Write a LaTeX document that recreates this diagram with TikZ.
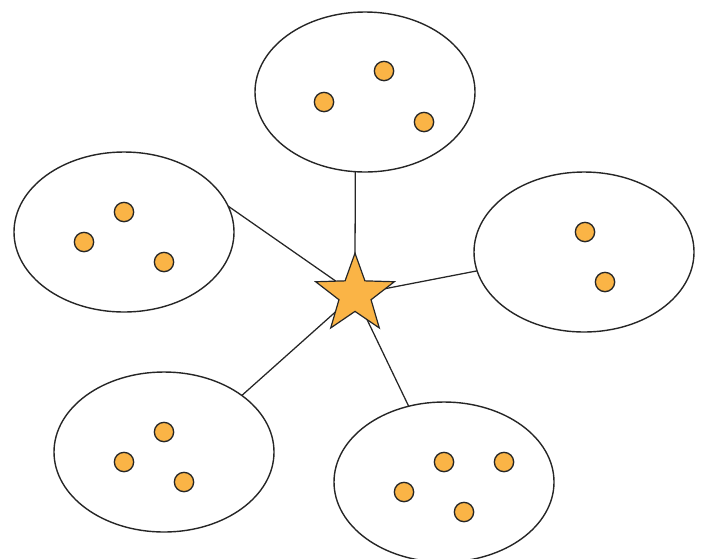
\documentclass[tikz,border=0pt]{standalone}
\usetikzlibrary{shapes.geometric,backgrounds}
\definecolor{dotfill}{RGB}{250,180,70}
\tikzset{
  grp/.style={ellipse, draw=black!85, line width=1.05pt, fill=white, inner sep=0pt, outer sep=0pt, minimum width=165pt, minimum height=120pt},
  elem/.style={circle, draw=black!85, line width=1pt, fill=dotfill, inner sep=0pt, minimum size=14.5pt},
  hub/.style={star, star points=5, star point ratio=2.45, draw=black!85, line width=0.9pt, fill=dotfill, inner sep=0pt, outer sep=0pt, minimum size=62pt},
  link/.style={draw=black!85, line width=0.95pt}
}
\begin{document}
\begin{tikzpicture}[x=0.75pt, y=-0.75pt]
\useasboundingbox (0,0) rectangle (705,558);
% groups
\node[grp] (gtop) at (365,92) {};
\node[grp] (gleft) at (124,232) {};
\node[grp] (gright) at (584,252) {};
\node[grp] (gbl) at (164,452) {};
\node[grp] (gbr) at (444,482) {};
% hub
\node[hub] (hub) at (355,294.5) {};
% links (behind everything)
\begin{scope}[on background layer]
\draw[link] (gtop.263.5) -- (hub.center);
\draw[link] (gleft.14.3) -- (hub.center);
\draw[link] (gright.190.9) -- (hub.center);
\draw[link] (gbl.36.8) -- (hub.center);
\draw[link] (gbr.115.1) -- (hub.center);
\end{scope}
% elements
\node[elem] (t1) at (384,71) {};
\node[elem] (t2) at (324,102) {};
\node[elem] (t3) at (424,122) {};
\node[elem] (l1) at (124,212) {};
\node[elem] (l2) at (84,242) {};
\node[elem] (l3) at (164,262) {};
\node[elem] (r1) at (585,232) {};
\node[elem] (r2) at (605,282) {};
\node[elem] (b1) at (164,432) {};
\node[elem] (b2) at (124,462) {};
\node[elem] (b3) at (184,482) {};
\node[elem] (c1) at (444,462) {};
\node[elem] (c2) at (504,462) {};
\node[elem] (c3) at (404,492) {};
\node[elem] (c4) at (464,512) {};
\end{tikzpicture}
\end{document}
